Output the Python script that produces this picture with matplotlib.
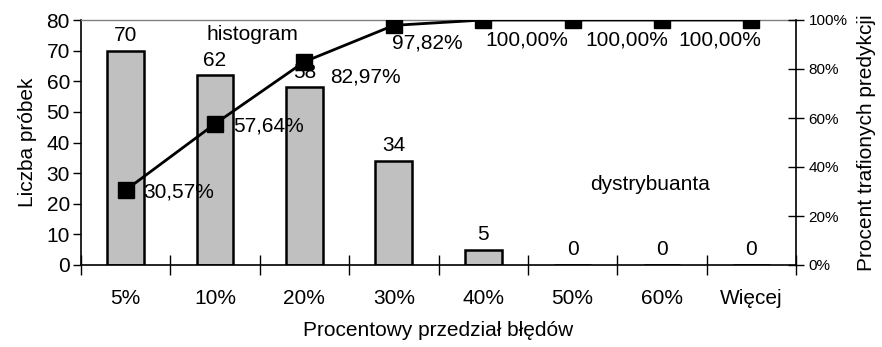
import matplotlib
matplotlib.use("Agg")
import matplotlib.pyplot as plt
import numpy as np

plt.rcParams['font.family'] = ['Liberation Sans', 'DejaVu Sans']

categories = ["5%", "10%", "20%", "30%", "40%", "50%", "60%", "Więcej"]
counts = [70, 62, 58, 34, 5, 0, 0, 0]
cumulative = [30.57, 57.64, 82.97, 97.82, 100.00, 100.00, 100.00, 100.00]
right_ticks = [0, 20, 40, 60, 80, 100]

FS = 15

fig = plt.figure(figsize=(8.82, 3.47), dpi=100)
ax = fig.add_axes([81 / 882, 1 - 265 / 347, (796 - 81) / 882, (265 - 20) / 347])
ax2 = ax.twinx()

x = np.arange(len(categories))
ax.bar(x, counts, width=0.41, color="#C0C0C0", edgecolor="black", linewidth=1.8, zorder=2)
ax.set_xlim(-0.5, len(categories) - 0.5)
ax.set_ylim(0, 80)
ax.set_yticks(range(0, 81, 10))

# bar value labels
for xi, c in zip(x, counts):
    ax.annotate(f"{c}", (xi, c), xytext=(0, 4), textcoords="offset points",
                ha="center", va="bottom", fontsize=FS)

# category boundaries as ticks, category names as minor ticks
ax.set_xticks(np.arange(-0.5, len(categories) + 0.5, 1.0))
ax.set_xticklabels([])
ax.set_xticks(x, minor=True)
ax.set_xticklabels(categories, minor=True, fontsize=FS)
ax.tick_params(axis="x", which="major", direction="inout", length=14, width=1)
ax.tick_params(axis="x", which="minor", length=0, pad=17)
ax.tick_params(axis="y", direction="out", length=6, width=1, labelsize=FS, pad=2)

ax.set_xlabel("Procentowy przedział błędów", fontsize=FS, labelpad=10)
ax.set_ylabel("Liczba próbek", fontsize=FS, labelpad=7)

for side in ("left", "bottom"):
    ax.spines[side].set_color("black")
    ax.spines[side].set_linewidth(1.2)
ax.spines["top"].set_color("#808080")
ax.spines["top"].set_linewidth(1.0)
ax.spines["right"].set_visible(False)

# cumulative distribution on secondary axis
ax2.plot(x, cumulative, color="black", linewidth=2, marker="s", markersize=11,
         markerfacecolor="black", markeredgecolor="black", zorder=3)
ax2.set_ylim(0, 100)
ax2.set_yticks(right_ticks)
ax2.set_yticklabels([f"{t}%" for t in right_ticks], fontsize=11)
ax2.tick_params(axis="y", direction="inout", length=12, width=1, pad=3)
ax2.set_ylabel("Procent trafionych predykcji", fontsize=FS, labelpad=7)
ax2.spines["right"].set_color("black")
ax2.spines["right"].set_linewidth(1.2)
for side in ("left", "top", "bottom"):
    ax2.spines[side].set_visible(False)

# label offsets (points) relative to each marker; the last point carries no label
offsets = [(13, -1.5, "left"), (13, -1.5, "left"),
           (18.5, -11, "left"), (24, -12.7, "center"),
           (1.5, -14.4, "left"), (9.4, -14.4, "left"),
           (11.5, -14.4, "left"), None]
labels = [f"{v:.2f}%".replace(".", ",") for v in cumulative]
for xi, v, lab, off in zip(x, cumulative, labels, offsets):
    if off is None:
        continue
    dx, dy, ha = off
    ax2.annotate(lab, (xi, v), xytext=(dx, dy), textcoords="offset points",
                 ha=ha, va="center", fontsize=FS)

ax.text(0.176, 0.939, "histogram", transform=ax.transAxes, fontsize=FS,
        ha="left", va="center")
ax.text(0.796, 0.327, "dystrybuanta", transform=ax.transAxes, fontsize=FS,
        ha="center", va="center")

fig.savefig("out.png", dpi=100)
